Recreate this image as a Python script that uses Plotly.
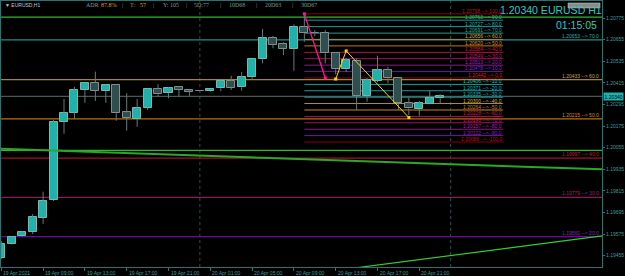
import plotly.graph_objects as go
import pandas as pd

# ---------------- data ----------------
bar_times = pd.date_range("2021-04-19 05:00", periods=43, freq="h")
opens = [1.19443, 1.19521, 1.19564, 1.19586, 1.19666, 1.19764, 1.20197, 1.20249, 1.20375, 1.20416,
         1.20369, 1.20403, 1.20251, 1.20216, 1.20277, 1.20379, 1.20357, 1.20390, 1.20373, 1.20372,
         1.20368, 1.20384, 1.20425, 1.20390, 1.20447, 1.20546, 1.20664, 1.20631, 1.20604, 1.20723,
         1.20692, 1.20690, 1.20579, 1.20490, 1.20536, 1.20343, 1.20427, 1.20486, 1.20440, 1.20301,
         1.20269, 1.20299, 1.20329]
highs = [1.19536, 1.19564, 1.19589, 1.19686, 1.19810, 1.20208, 1.20325, 1.20393, 1.20417, 1.20477,
         1.20406, 1.20406, 1.20357, 1.20325, 1.20381, 1.20407, 1.20392, 1.20397, 1.20375, 1.20375,
         1.20383, 1.20428, 1.20454, 1.20475, 1.20547, 1.20714, 1.20675, 1.20640, 1.20740, 1.20798,
         1.20708, 1.20708, 1.20586, 1.20553, 1.20551, 1.20442, 1.20566, 1.20504, 1.20447, 1.20332,
         1.20314, 1.20369, 1.20351]
lows = [1.19436, 1.19517, 1.19561, 1.19575, 1.19631, 1.19758, 1.20132, 1.20214, 1.20304, 1.20314,
        1.20304, 1.20204, 1.20149, 1.20171, 1.20264, 1.20338, 1.20329, 1.20338, 1.20342, 1.20367,
        1.20364, 1.20369, 1.20375, 1.20371, 1.20434, 1.20523, 1.20607, 1.20569, 1.20482, 1.20643,
        1.20675, 1.20523, 1.20462, 1.20475, 1.20264, 1.20310, 1.20419, 1.20412, 1.20264, 1.20236,
        1.20232, 1.20297, 1.20301]
closes = [1.19519, 1.19560, 1.19584, 1.19668, 1.19760, 1.20196, 1.20249, 1.20375, 1.20416, 1.20371,
          1.20403, 1.20246, 1.20218, 1.20277, 1.20379, 1.20351, 1.20388, 1.20375, 1.20366, 1.20368,
          1.20382, 1.20425, 1.20388, 1.20446, 1.20546, 1.20664, 1.20627, 1.20604, 1.20725, 1.20690,
          1.20689, 1.20579, 1.20490, 1.20542, 1.20343, 1.20431, 1.20486, 1.20440, 1.20301, 1.20273,
          1.20301, 1.20332, 1.20340]

tick_times = ["2021-04-19 05:00", "2021-04-19 09:00", "2021-04-19 13:00", "2021-04-19 17:00",
              "2021-04-19 21:00", "2021-04-20 01:00", "2021-04-20 05:00", "2021-04-20 09:00",
              "2021-04-20 13:00", "2021-04-20 17:00", "2021-04-20 21:00"]
tick_text = ["19 Apr 2021", "19 Apr 09:00", "19 Apr 13:00", "19 Apr 17:00", "19 Apr 21:00",
             "20 Apr 01:00", "20 Apr 05:00", "20 Apr 09:00", "20 Apr 13:00", "20 Apr 17:00",
             "20 Apr 21:00"]
y_ticks = [1.20775, 1.20655, 1.20535, 1.20415, 1.20295, 1.20175, 1.20055, 1.19935,
           1.19815, 1.19695, 1.19575, 1.19455]

fib_levels = [100, 90, 80, 70, 60, 50, 40, 30, 20, 10, 0,
              -10, -20, -30, -40, -50, -60, -70, -80, -90, -100]
fib_prices = [1.20798, 1.20763, 1.20727, 1.20691, 1.20656, 1.20620, 1.20584, 1.20549, 1.20513,
              1.20478, 1.20442, 1.20406, 1.20371, 1.20335, 1.20300, 1.20264, 1.20228, 1.20193,
              1.20157, 1.20122, 1.20086]
fib_start = "2021-04-20 10:00"
fib_end = "2021-04-21 05:00"

level_names = [70, 60, 50, 40, 30, 20]
level_prices = [1.20653, 1.20433, 1.20215, 1.19997, 1.19779, 1.19560]
green_levels = [1.20780, 1.20040]
separators = ["2021-04-20 00:00", "2021-04-21 00:00"]

ma_times = ["2021-04-19 04:00", "2021-04-21 15:00"]
ma_prices = [1.20051, 1.19933]
sup_times = ["2021-04-20 14:00", "2021-04-21 15:00"]
sup_prices = [1.19380, 1.19568]
pink_times = ["2021-04-20 10:00", "2021-04-20 12:00"]
pink_prices = [1.20798, 1.20442]
zz_times = ["2021-04-20 13:00", "2021-04-20 14:00", "2021-04-20 20:00"]
zz_prices = [1.20436, 1.20592, 1.20222]

header = [("ADR", "#6a9e9e"), ("87.8%", "#e09a28"), ("|", "#6a9e9e"), ("T:", "#6a9e9e"),
          ("57", "#e09a28"), ("|", "#6a9e9e"), ("Y: 105", "#6a9e9e"), ("|", "#6a9e9e"),
          ("5D:77", "#6a9e9e"), ("|", "#6a9e9e"), ("10D68", "#6a9e9e"), ("|", "#6a9e9e"),
          ("20D63", "#6a9e9e"), ("|", "#6a9e9e"), ("30D67", "#6a9e9e")]
header_x = [85, 100, 121, 129, 139, 152, 162, 185, 193, 219, 228, 255, 264, 291, 300]
timer_text = "01:15:05"

# ---------------- styles ----------------
fib_colors = ["#8b0000", "#1e9a9a", "#1e9a9a", "#2a9a8a", "#a89020", "#c07810", "#b01040",
              "#a01060", "#8a1a8a", "#7010a0", "#8b0000", "#1e9a9a", "#1e9a9a", "#1e9a9a",
              "#a89020", "#8a5a10", "#b01040", "#a01060", "#8a1a8a", "#7010a0", "#8b0000"]
fib_label_colors = ["#b01818", "#22b5b5", "#22b5b5", "#30ab9a", "#d0b030", "#e08a20", "#d01848",
                    "#c01870", "#a028b0", "#8a28c0", "#d02020", "#22c0c0", "#22b5b5", "#22b5b5",
                    "#d0b030", "#c08020", "#d01848", "#c01870", "#a028b0", "#8a28c0", "#b01818"]
level_colors = ["#1e8e8e", "#a08a20", "#b8700a", "#a0102a", "#8b1a5a", "#6a0a9a"]
level_label_colors = ["#22b0b0", "#c8a830", "#d08a20", "#c01838", "#a02070", "#8a20c0"]
AXC = "#2a7373"
TXT = "#3a9f9f"
SMALL = "Liberation Sans, Arial, sans-serif"
BIG = "Liberation Sans, Arial, sans-serif"

L_PX, R_PX, T_PX, B_PX = 1, 602, 1, 267
PX_PER_H = 10.45
PX_PER_P = 18000.0


def px(x):
    return (x - L_PX) / (R_PX - L_PX)


def py(y):
    return (B_PX - y) / (B_PX - T_PX)


t0 = bar_times[0]
x_lo = t0 + pd.Timedelta(hours=(L_PX - 1.3) / PX_PER_H)
x_hi = t0 + pd.Timedelta(hours=(R_PX - 1.3) / PX_PER_H)
y_hi = 1.20775 + (18 - T_PX) / PX_PER_P
y_lo = y_hi - (B_PX - T_PX) / PX_PER_P

fig = go.Figure()

# candle bodies
bull = [c > o for o, c in zip(opens, closes)]
base = [min(o, c) for o, c in zip(opens, closes)]
height = [max(abs(c - o), 0.00002) for o, c in zip(opens, closes)]
fig.add_trace(go.Bar(
    x=bar_times, y=height, base=base, width=0.77 * 3600 * 1000,
    marker=dict(color=["#20b2aa" if b else "#2f4f4f" for b in bull],
                line=dict(color=["#78b8b2" if b else "#7f9090" for b in bull], width=1)),
    hoverinfo="skip"))

# wicks (outside bodies)
wx, wy = [], []
for t, o, h, l, c in zip(bar_times, opens, highs, lows, closes):
    wx += [t, t, None, t, t, None]
    wy += [h, max(o, c), None, min(o, c), l, None]
fig.add_trace(go.Scatter(x=wx, y=wy, mode="lines", line=dict(color="#687a7a", width=1),
                         hoverinfo="skip"))

# trend lines
fig.add_trace(go.Scatter(x=ma_times, y=ma_prices, mode="lines",
                         line=dict(color="#2aa82a", width=2), hoverinfo="skip"))
fig.add_trace(go.Scatter(x=sup_times, y=sup_prices, mode="lines",
                         line=dict(color="#32cd32", width=1.2), hoverinfo="skip"))
fig.add_trace(go.Scatter(x=pink_times, y=pink_prices, mode="lines+markers",
                         line=dict(color="#ff1493", width=1.3),
                         marker=dict(symbol="square", size=3, color="#ff1493"), hoverinfo="skip"))
fig.add_trace(go.Scatter(x=zz_times, y=zz_prices, mode="lines+markers",
                         line=dict(color="#ffd700", width=1),
                         marker=dict(symbol="square", size=3, color="#ffd700"), hoverinfo="skip"))

shapes = []
annotations = []

# separators
for s in separators:
    shapes.append(dict(type="line", xref="x", yref="paper", x0=s, x1=s, y0=0, y1=1,
                       line=dict(color="#1e5555", width=1, dash="dot"), layer="below"))

# full-width horizontal lines
for p in green_levels:
    shapes.append(dict(type="line", xref="paper", yref="y", x0=0, x1=1, y0=p, y1=p,
                       line=dict(color="#2eb82e", width=1.2), layer="below"))
for n, p, c, lc in zip(level_names, level_prices, level_colors, level_label_colors):
    shapes.append(dict(type="line", xref="paper", yref="y", x0=0, x1=1, y0=p, y1=p,
                       line=dict(color=c, width=1.2), layer="below"))
    annotations.append(dict(xref="paper", yref="y", x=px(601), y=p, xanchor="right",
                            yanchor="bottom", yshift=-1, showarrow=False,
                            text=f"{p:.5f} --> {n:.1f}", font=dict(size=5, color=lc, family=SMALL)))
# current price line
shapes.append(dict(type="line", xref="paper", yref="y", x0=0, x1=1, y0=closes[-1], y1=closes[-1],
                   line=dict(color="#5e6c6c", width=1), layer="below"))

# fibonacci levels
for lv, p, c, lc in zip(fib_levels, fib_prices, fib_colors, fib_label_colors):
    shapes.append(dict(type="line", xref="x", yref="y", x0=fib_start, x1=fib_end, y0=p, y1=p,
                       line=dict(color=c, width=1.5 if lv == -50 else 1), layer="below"))
    annotations.append(dict(xref="x", yref="y", x=fib_end, y=p, xanchor="right",
                            yanchor="bottom", yshift=-1, showarrow=False, borderpad=0,
                            text=f"{p:.5f} --> {lv:.1f}", font=dict(size=5, color=lc, family=SMALL)))

# x tick labels (left aligned at tick)
for t, s in zip(tick_times, tick_text):
    annotations.append(dict(xref="x", yref="paper", x=t, y=0, xanchor="left", yanchor="top",
                            yshift=-1, showarrow=False, text=s,
                            font=dict(size=5, color=TXT, family=SMALL)))

# current price box
annotations.append(dict(xref="paper", yref="y", x=1, y=closes[-1], xanchor="left", xshift=1,
                        showarrow=False, text=f"{closes[-1]:.5f}", bgcolor="#20b2aa",
                        borderpad=0.5, font=dict(size=5, color="#000000", family=SMALL)))

# header texts
for (s, c), xx in zip(header, header_x):
    annotations.append(dict(xref="paper", yref="paper", x=px(xx), y=py(5.5), xanchor="left",
                            yanchor="middle", showarrow=False, text=s, borderpad=0,
                            font=dict(size=6, color=c, family="Liberation Serif, serif")))
annotations.append(dict(xref="paper", yref="paper", x=px(3), y=py(5), xanchor="left",
                        yanchor="middle", showarrow=False, text="▼ EURUSD,H1",
                        font=dict(size=5, color="#c0c8c8", family=SMALL)))
annotations.append(dict(xref="paper", yref="paper", x=px(603), y=py(10.5), xanchor="right",
                        yanchor="middle", showarrow=False, borderpad=0,
                        text=f"{closes[-1]:.5f} EURUSD H1",
                        font=dict(size=10.5, color="#33c7bf", family=BIG)))
annotations.append(dict(xref="paper", yref="paper", x=px(576), y=py(25), xanchor="center",
                        yanchor="middle", showarrow=False, text=timer_text,
                        font=dict(size=10.5, color="#33c7bf", family=BIG)))
# small button box top-right
shapes.append(dict(type="rect", xref="paper", yref="paper", x0=px(568), x1=px(600),
                   y0=py(8), y1=py(3), fillcolor="#8a8a8a", line=dict(color="#d0d0d0", width=0.5)))

fig.update_layout(
    width=625, height=276,
    margin=dict(l=L_PX, r=625 - R_PX, t=T_PX, b=276 - B_PX, pad=0),
    paper_bgcolor="#000000", plot_bgcolor="#000000",
    showlegend=False, barmode="overlay", bargap=0,
    shapes=shapes, annotations=annotations,
    xaxis=dict(type="date", range=[x_lo, x_hi], showgrid=False, zeroline=False,
               showline=True, linecolor=AXC, linewidth=1, mirror=True,
               tickvals=tick_times, ticks="outside", ticklen=3, tickcolor=AXC,
               showticklabels=False, fixedrange=True, automargin=False),
    yaxis=dict(side="right", range=[y_lo, y_hi], showgrid=False, zeroline=False,
               showline=True, linecolor=AXC, linewidth=1, mirror=True,
               tickvals=y_ticks, tickformat=".5f", ticks="outside", ticklen=2, tickcolor=AXC,
               tickfont=dict(size=5, color=TXT, family=SMALL), fixedrange=True,
               automargin=False),
)

fig.write_html("out.html", config={"displayModeBar": False})
